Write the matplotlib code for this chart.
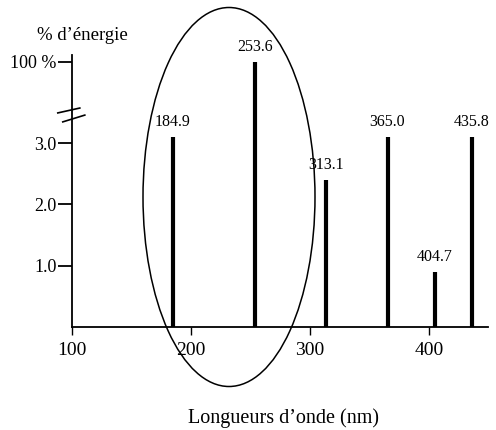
import numpy as np
import matplotlib.pyplot as plt
from matplotlib.patches import Ellipse

plt.rcParams['font.family'] = ['Liberation Serif', 'DejaVu Serif']

# raies du mercure
wavelengths = [184.9, 253.6, 313.1, 365.0, 404.7, 435.8]
energy = [3.1, 100.0, 2.4, 3.1, 0.9, 3.1]
line_labels = ['184.9', '253.6', '313.1', '365.0', '404.7', '435.8']

xticks = [100, 200, 300, 400]
yticks = [1.0, 2.0, 3.0, 100.0]
ytick_labels = ['1.0', '2.0', '3.0', '100 %']

# axe vertical interrompu : au-dessus de 3.5 on comprime
BRK = 3.5
K = 0.0086


def fwd(y):
    y = np.asarray(y, dtype=float)
    return np.where(y <= BRK, y, BRK + (y - BRK) * K)


def inv(y):
    y = np.asarray(y, dtype=float)
    return np.where(y <= BRK, y, BRK + (y - BRK) / K)


fig = plt.figure(figsize=(4.96, 4.30), dpi=100)
ax = fig.add_axes([0.145, 0.240, 0.838, 0.632])
ax.set_yscale('function', functions=(fwd, inv))

ax.vlines(wavelengths, 0, energy, colors='black', linewidth=3.0)
for x, y, s in zip(wavelengths, energy, line_labels):
    ax.annotate(s, (x, y), xytext=(0, 5), textcoords='offset points',
                ha='center', va='bottom', fontsize=11.5)

ax.set_xlim(100, 449)
ax.set_ylim(0, 112.8)

ax.set_xticks(xticks)
ax.set_xticklabels([str(t) for t in xticks], fontsize=14)
ax.set_yticks(yticks)
ax.set_yticklabels(ytick_labels, fontsize=13)
ax.tick_params(axis='y', direction='out', length=10, width=1.3, pad=1)
ax.tick_params(axis='x', direction='out', length=6, width=1.0, pad=5)
ax.yaxis.set_minor_locator(plt.NullLocator())

for s in ['top', 'right']:
    ax.spines[s].set_visible(False)
ax.spines['left'].set_linewidth(1.3)
ax.spines['bottom'].set_linewidth(1.3)

# marques d'interruption
ax.plot([-0.034, 0.019], [0.787, 0.805], transform=ax.transAxes,
        color='black', linewidth=1.2, clip_on=False)
ax.plot([-0.022, 0.031], [0.754, 0.779], transform=ax.transAxes,
        color='black', linewidth=1.2, clip_on=False)

# ellipse autour de 184.9 / 253.6
ell = Ellipse((229 / 496, 1 - 197 / 430), 172 / 496, 379 / 430,
              transform=fig.transFigure, fill=False, edgecolor='black',
              linewidth=1.1)
fig.patches.append(ell)

fig.text(82 / 496, 1 - 36 / 430, '% d\u2019énergie', ha='center', va='center',
         fontsize=13.5)
fig.text(284 / 496, 1 - 418 / 430, 'Longueurs d\u2019onde (nm)', ha='center',
         va='center', fontsize=14.5)

fig.savefig('out.png', dpi=100)
